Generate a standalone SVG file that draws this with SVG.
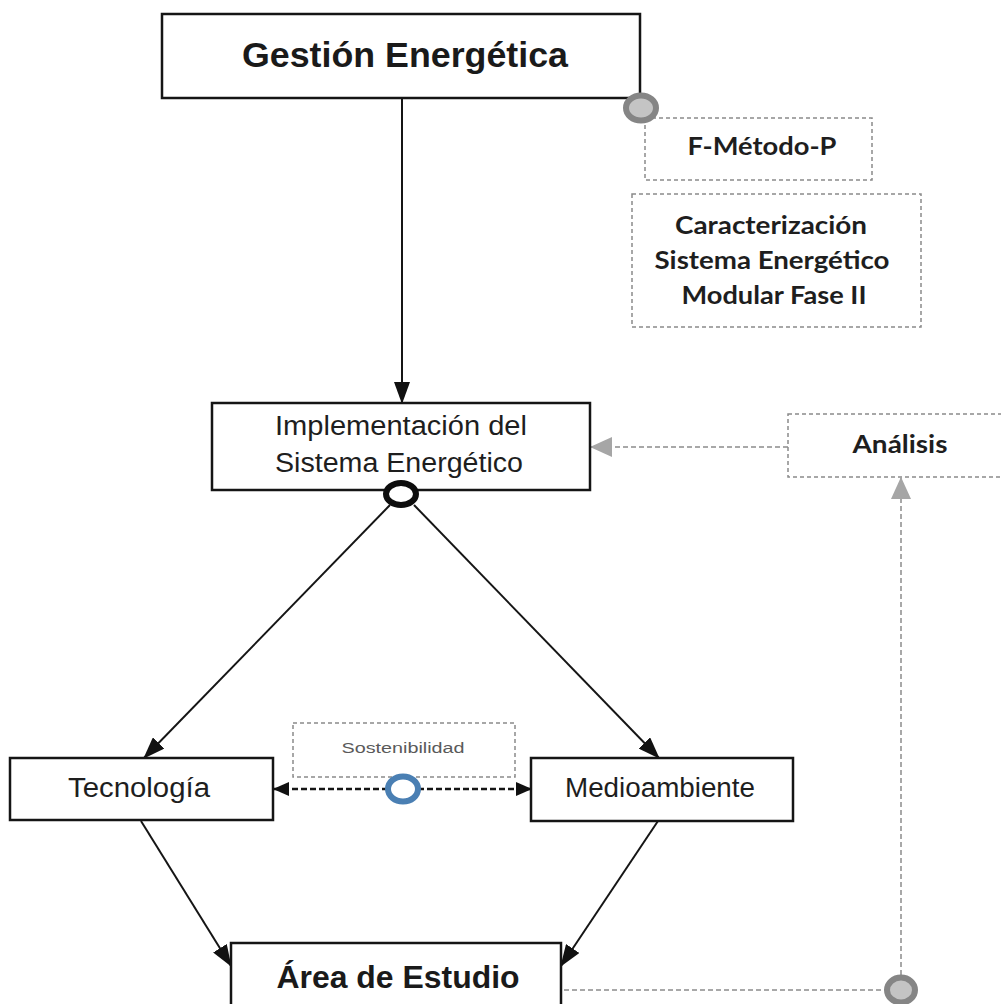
<svg xmlns="http://www.w3.org/2000/svg" width="1001" height="1004" viewBox="0 0 1001 1004">
  <style>
    .box { fill: #ffffff; stroke: #151515; stroke-width: 2.5; }
    .dbox { fill: #ffffff; stroke: #8a8a8a; stroke-width: 1.5; stroke-dasharray: 4 3; }
    .solid { fill: none; stroke: #151515; stroke-width: 2; }
    .bidash { fill: none; stroke: #151515; stroke-width: 2.5; stroke-dasharray: 6 3; }
    .gdash { fill: none; stroke: #a8a8a8; stroke-width: 2; stroke-dasharray: 5 3; }
    .t-arial { font-family: "Liberation Sans", Arial, sans-serif; fill: #1e1e1e; text-anchor: middle; }
    .t-bold { font-family: "Liberation Sans", Arial, sans-serif; font-weight: bold; fill: #1a1a1a; text-anchor: middle; }
    .t-cal { font-family: Lato, "Open Sans", sans-serif; font-weight: bold; fill: #1e1e1e; text-anchor: middle; font-size: 25px; }
    .t-small { font-family: "Liberation Sans", Arial, sans-serif; fill: #5a5a5a; text-anchor: middle; font-size: 14px; }
  </style>
  <defs>
    <marker id="arrow" viewBox="0 0 22 16" refX="21" refY="8" markerWidth="22" markerHeight="16" markerUnits="userSpaceOnUse" orient="auto-start-reverse">
      <path d="M0,0 L22,8 L0,16 z" fill="#111111"/>
    </marker>
    <marker id="arrowSmall" viewBox="0 0 16 14" refX="15" refY="7" markerWidth="16" markerHeight="14" markerUnits="userSpaceOnUse" orient="auto-start-reverse">
      <path d="M0,0 L16,7 L0,14 z" fill="#111111"/>
    </marker>
    <marker id="arrowGray" viewBox="0 0 22 20" refX="21" refY="10" markerWidth="22" markerHeight="20" markerUnits="userSpaceOnUse" orient="auto">
      <path d="M0,0 L22,10 L0,20 z" fill="#a6a6a6"/>
    </marker>
  </defs>

  <rect width="1001" height="1004" fill="#ffffff"/>

  <!-- connectors -->
  <g id="connectors">
    <!-- Gestión -> Implementación -->
    <line class="solid" x1="402" y1="98" x2="402" y2="403" marker-end="url(#arrow)"/>
    <!-- Implementación -> Tecnología / Medioambiente -->
    <line class="solid" x1="390" y1="505" x2="144" y2="758" marker-end="url(#arrow)"/>
    <line class="solid" x1="414" y1="505" x2="659" y2="758" marker-end="url(#arrow)"/>
    <!-- Tecnología / Medioambiente -> Área de Estudio -->
    <line class="solid" x1="141" y1="821" x2="231" y2="966" marker-end="url(#arrow)"/>
    <line class="solid" x1="658" y1="821" x2="561" y2="966" marker-end="url(#arrow)"/>
    <!-- Tecnología <-> Medioambiente -->
    <line class="bidash" x1="274" y1="789" x2="531" y2="789" marker-start="url(#arrowSmall)" marker-end="url(#arrowSmall)"/>
    <!-- feedback loop: Área de Estudio -> Análisis -> Implementación -->
    <line class="gdash" x1="564" y1="990" x2="884" y2="990"/>
    <line class="gdash" x1="901" y1="975" x2="901" y2="478" marker-end="url(#arrowGray)"/>
    <line class="gdash" x1="788" y1="447" x2="591" y2="447" marker-end="url(#arrowGray)"/>
  </g>

  <g id="gestion">
    <rect class="box" x="162" y="14" width="478" height="84"/>
    <text class="t-bold" x="405" y="67" font-size="35" textLength="326" lengthAdjust="spacingAndGlyphs">Gestión Energética</text>
  </g>

  <g id="metodo">
    <rect class="dbox" x="645" y="118" width="227" height="62"/>
    <text class="t-cal" x="762" y="155" textLength="149" lengthAdjust="spacingAndGlyphs">F-Método-P</text>
  </g>

  <g id="caracterizacion">
    <rect class="dbox" x="632" y="194" width="289" height="133"/>
    <text class="t-cal" x="771" y="234" textLength="192" lengthAdjust="spacingAndGlyphs">Caracterización</text>
    <text class="t-cal" x="772" y="269" textLength="235" lengthAdjust="spacingAndGlyphs">Sistema Energético</text>
    <text class="t-cal" x="774" y="304" textLength="185" lengthAdjust="spacingAndGlyphs">Modular Fase II</text>
  </g>

  <g id="implementacion">
    <rect class="box" x="212" y="403" width="378" height="87"/>
    <text class="t-arial" x="401" y="435" font-size="27" textLength="252" lengthAdjust="spacingAndGlyphs">Implementación  del</text>
    <text class="t-arial" x="399" y="472" font-size="27" textLength="248" lengthAdjust="spacingAndGlyphs">Sistema Energético</text>
  </g>

  <g id="analisis">
    <rect class="dbox" x="788" y="414" width="225" height="63"/>
    <text class="t-cal" x="900" y="453" textLength="95" lengthAdjust="spacingAndGlyphs">Análisis</text>
  </g>

  <g id="sostenibilidad">
    <rect class="dbox" x="293" y="723" width="222" height="54"/>
    <text class="t-small" x="403" y="753" textLength="123" lengthAdjust="spacingAndGlyphs">Sostenibilidad</text>
  </g>

  <g id="tecnologia">
    <rect class="box" x="10" y="758" width="263" height="62"/>
    <text class="t-arial" x="139" y="797" font-size="27" textLength="142" lengthAdjust="spacingAndGlyphs">Tecnología</text>
  </g>

  <g id="medioambiente">
    <rect class="box" x="531" y="758" width="262" height="63"/>
    <text class="t-arial" x="660" y="797" font-size="27" textLength="190" lengthAdjust="spacingAndGlyphs">Medioambiente</text>
  </g>

  <g id="area-estudio">
    <rect class="box" x="231" y="943" width="330" height="80"/>
    <text class="t-bold" x="398" y="988" font-size="32" textLength="243" lengthAdjust="spacingAndGlyphs">Área de Estudio</text>
  </g>

  <!-- junction rings -->
  <g id="junctions">
    <ellipse cx="641" cy="108" rx="15" ry="12.5" fill="#c4c4c4" stroke="#858585" stroke-width="6"/>
    <ellipse cx="401" cy="494" rx="15" ry="11" fill="#ffffff" stroke="#0d0d0d" stroke-width="6"/>
    <ellipse cx="403" cy="789" rx="15" ry="12.5" fill="#ffffff" stroke="#4a7fb3" stroke-width="6"/>
    <ellipse cx="901" cy="990" rx="14" ry="12.5" fill="#c4c4c4" stroke="#858585" stroke-width="6"/>
  </g>
</svg>
